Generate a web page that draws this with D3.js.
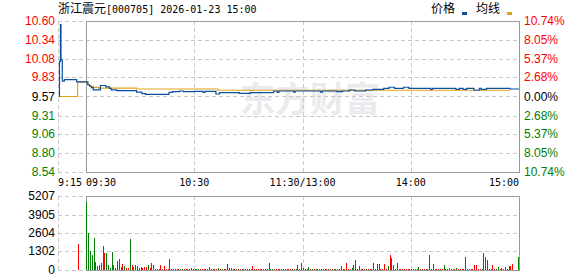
<!DOCTYPE html>
<html lang="zh">
<head>
<meta charset="UTF-8">
<title>浙江震元 分时</title>
<script src="https://d3js.org/d3.v7.min.js"></script>
<style>
  body { margin: 0; background: #fff; }
  svg text { font-family: "Liberation Sans", Arial, sans-serif; font-size: 12px; }
  .mono { font-family: "DejaVu Sans Mono", monospace; font-size: 10px; }
  .cjk { font-family: "Noto Sans CJK SC", sans-serif; font-size: 12px; }
</style>
</head>
<body>
<div id="chart"></div>
<script>
// 坐标刻度
const priceTicks = [10.60, 10.34, 10.08, 9.83, 9.57, 9.31, 9.06, 8.80, 8.54];
const pctLabels = ["10.74%", "8.05%", "5.37%", "2.68%", "0.00%", "2.68%", "5.37%", "8.05%", "10.74%"];
const volTicks = [5207, 3905, 2604, 1302, 0];
const timeLabels = ["09:30", "10:30", "11:30/13:00", "14:00", "15:00"];
const timeMinutes = [0, 60, 120, 180, 240];

// 集合竞价 (9:15 之后的分钟)
const preTimes = [0.5, 0.8, 1.3, 1.6, 2.3, 3.4, 10.0, 15];
const prePrices = [9.57, 10.05, 10.55, 10.07, 9.78, 9.80, 9.77, 9.77];
const preAvgTimes = [0.5, 10.5, 15];
const preAvgPrices = [9.57, 9.77, 9.77];
const preVolTime = 10.8;
const preVol = 1830;

// 连续交易 (9:30 之后的分钟序号)
const tradeIdx = [0, 1, 2, 3, 4, 8, 11, 13, 14, 17, 28, 31, 33, 46, 48, 52, 54, 60, 65, 66, 72, 74, 85, 91,
  104, 106, 107, 115, 116, 130, 131, 139, 142, 146, 149, 155, 159, 165, 168, 171, 176, 179, 191, 192,
  205, 207, 209, 211, 215, 218, 219, 222, 235, 240];
const tradePrices = [9.77, 9.73, 9.71, 9.69, 9.66, 9.72, 9.70, 9.68, 9.66, 9.65, 9.63, 9.61, 9.60, 9.627,
  9.636, 9.645, 9.636, 9.64, 9.627, 9.64, 9.604, 9.622, 9.613, 9.622, 9.645, 9.627, 9.645, 9.63, 9.645,
  9.63, 9.645, 9.636, 9.645, 9.659, 9.645, 9.659, 9.668, 9.682, 9.696, 9.682, 9.696, 9.682, 9.668, 9.682,
  9.668, 9.682, 9.668, 9.682, 9.655, 9.682, 9.668, 9.682, 9.672, 9.672];
const avgIdx = [0, 1, 2, 4, 7, 28, 73, 235];
const avgPrices = [9.77, 9.73, 9.71, 9.695, 9.685, 9.672, 9.655, 9.655];

// 每分钟成交量 (手)
const volumes = [
  4810, 2630, 1360, 1060, 2280, 560, 300, 350, 490, 1710,
  1200, 1200, 380, 140, 1270, 350, 160, 630, 780, 210,
  420, 260, 160, 160, 2190, 350, 235, 350, 280, 120,
  210, 120, 210, 210, 350, 160, 490, 350, 70, 70,
  50, 350, 70, 280, 70, 60, 780, 60, 50, 60,
  50, 60, 50, 60, 50, 60, 50, 60, 160, 60,
  50, 60, 60, 50, 60, 50, 60, 50, 210, 60,
  50, 60, 50, 140, 60, 50, 60, 60, 420, 120,
  160, 60, 70, 50, 60, 70, 60, 50, 60, 70,
  60, 50, 280, 70, 60, 60, 70, 60, 60, 60,
  50, 520, 60, 70, 60, 60, 60, 70, 60, 60,
  60, 60, 70, 60, 60, 50, 60, 350, 60, 520,
  160, 60, 60, 210, 60, 70, 60, 60, 60, 70,
  60, 60, 60, 70, 60, 60, 60, 60, 70, 60,
  60, 280, 60, 60, 520, 60, 70, 160, 375, 730,
  60, 280, 60, 70, 60, 60, 60, 70, 60, 490,
  60, 420, 420, 60, 70, 420, 60, 280, 1060, 850,
  350, 60, 490, 70, 60, 60, 70, 60, 100, 70,
  60, 60, 70, 60, 210, 60, 60, 70, 60, 60,
  1060, 60, 420, 60, 60, 70, 60, 60, 350, 60,
  70, 160, 60, 70, 60, 160, 60, 70, 60, 60,
  920, 60, 70, 60, 70, 350, 350, 60, 60, 70,
  1200, 920, 700, 60, 70, 350, 60, 70, 210, 60,
  160, 70, 210, 70, 280, 280, 420, 0, 0, 920
];
// r = 涨 (红), g = 跌 (绿)
const sides = ("gggggrrrrr" + "rggggrggrr" + "rgrrgrrgrr" + "grrrgrrgrr" + "grrrrrrrrg" +
  "rrggrrrrrg" + "rggrrrrrrg" + "grrgrgrrrg" + "rrrgrrgrgr" + "rrrrrrrgrr" +
  "rrggrrrgrr" + "rgrrgrgrgr" + "rrrgrgrgrr" + "grrrgrrgrr" + "rrrrrrrgrr" +
  "rgrrrgrrrr" + "rrrrrrrgrr" + "grrrrrrrrr" + "rrrrgrrrgr" + "rrgrrrrrgr" +
  "rrrrrgrrrr" + "rrrrrrrrrg" + "grrrrrrggr" + "rrrrrrrrrg").split("");

const W = 578, H = 276;
const plotL = 86, plotR = 519, preL = 58;
const plotT = 21, plotB = 172;
const volT = 196, volB = 270;
const red = "#ff0000", green = "#008000";
const gridColor = "#c8c8c8", boxColor = "#9a9a9a";
const priceColor = "#0b4f9f", avgColor = "#e0a31d";

const svg = d3.select("#chart").append("svg")
  .attr("width", W).attr("height", H);

const xPre = d3.scaleLinear().domain([0, 15]).range([preL, plotL]);
const x = d3.scaleLinear().domain([0, 240]).range([plotL, plotR]);
const y = d3.scaleLinear().domain([8.54, 10.60]).range([plotB, plotT]);
const yVol = d3.scaleLinear().domain([0, 5207]).range([volB, volT]);

const tickColor = i => i < 4 ? red : (i === 4 ? "#000" : green);
const crisp = v => Math.round(v) + 0.5;
const vx = d => crisp(d === null ? xPre(0) : x(d));

// 水印
svg.append("text")
  .attr("x", 240).attr("y", 112)
  .attr("class", "cjk")
  .style("font-size", "35px").style("font-weight", "bold")
  .attr("fill", "#ebebef")
  .text("东方财富");

// 网格
function grid(ticks, scale, t, b) {
  const g = svg.append("g");
  g.selectAll("line.h").data(ticks).join("line").attr("class", "h")
    .attr("x1", preL).attr("x2", plotR)
    .attr("y1", d => crisp(scale(d))).attr("y2", d => crisp(scale(d)))
    .attr("stroke", gridColor).attr("stroke-dasharray", "4,3");
  g.selectAll("line.v").data([null, 60, 120, 180]).join("line").attr("class", "v")
    .attr("x1", vx).attr("x2", vx)
    .attr("y1", t).attr("y2", b)
    .attr("stroke", gridColor).attr("stroke-dasharray", "4,3");
}
grid(priceTicks, y, plotT, plotB);
grid(volTicks, yVol, volT, volB);

// 边框
[[plotT, plotB], [volT, volB]].forEach(([t, b]) => {
  svg.append("rect")
    .attr("x", plotL + 0.5).attr("y", crisp(t))
    .attr("width", plotR - plotL).attr("height", Math.round(b) - Math.round(t))
    .attr("fill", "none").attr("stroke", boxColor);
});

// 左轴价格
svg.append("g").selectAll("text").data(priceTicks).join("text")
  .attr("x", 55).attr("y", d => y(d))
  .attr("text-anchor", "end").attr("dominant-baseline", "central")
  .attr("fill", (d, i) => tickColor(i))
  .text(d => d.toFixed(2));

// 右轴涨跌幅
svg.append("g").selectAll("text").data(pctLabels).join("text")
  .attr("x", 524).attr("y", (d, i) => y(priceTicks[i]))
  .attr("dominant-baseline", "central")
  .attr("fill", (d, i) => tickColor(i))
  .text(d => d);

// 成交量轴
svg.append("g").selectAll("text").data(volTicks).join("text")
  .attr("x", 55).attr("y", d => yVol(d))
  .attr("text-anchor", "end").attr("dominant-baseline", "central")
  .attr("fill", "#000")
  .text(d => d);

// 时间轴
svg.append("text").attr("class", "mono")
  .attr("x", xPre(0)).attr("y", 182).attr("dominant-baseline", "central")
  .text("9:15");
svg.append("g").selectAll("text").data(timeLabels).join("text")
  .attr("class", "mono")
  .attr("x", (d, i) => x(timeMinutes[i]))
  .attr("y", 182).attr("dominant-baseline", "central")
  .attr("text-anchor", (d, i) => i === 0 ? "start" : (i === timeLabels.length - 1 ? "end" : "middle"))
  .text(d => d);

// 标题
const title = svg.append("text").attr("x", preL).attr("y", 13);
title.append("tspan").attr("class", "cjk").text("浙江震元");
title.append("tspan").attr("class", "mono").text("[000705] 2026-01-23 15:00");

// 图例
const legend = svg.append("g");
legend.append("text").attr("class", "cjk").attr("x", 431).attr("y", 13).text("价格");
legend.append("rect").attr("x", 462).attr("y", 12).attr("width", 5).attr("height", 3).attr("fill", priceColor);
legend.append("text").attr("class", "cjk").attr("x", 476).attr("y", 13).text("均线");
legend.append("rect").attr("x", 507).attr("y", 12).attr("width", 5).attr("height", 3).attr("fill", avgColor);

// 成交量柱
const barX = i => x(i + 0.5) - 0.5;
svg.append("g").attr("shape-rendering", "crispEdges")
  .selectAll("rect").data(volumes).join("rect")
  .attr("x", (d, i) => barX(i))
  .attr("y", d => yVol(d))
  .attr("width", 1)
  .attr("height", d => volB - yVol(d))
  .attr("fill", (d, i) => sides[i] === "r" ? red : green);
svg.append("rect").attr("shape-rendering", "crispEdges")
  .attr("x", xPre(preVolTime) - 0.5).attr("y", yVol(preVol))
  .attr("width", 1).attr("height", volB - yVol(preVol))
  .attr("fill", red);

// 价格线与均线
const line = d3.line().x(d => d[0]).y(d => y(d[1])).curve(d3.curveStepAfter);
const pricePts = preTimes.map((t, i) => [xPre(t), prePrices[i]])
  .concat(tradeIdx.map((t, i) => [x(t), tradePrices[i]]));
const avgPts = preAvgTimes.map((t, i) => [xPre(t), preAvgPrices[i]])
  .concat(avgIdx.map((t, i) => [x(t), avgPrices[i]]));

svg.append("path").datum(avgPts)
  .attr("d", line).attr("fill", "none")
  .attr("stroke", avgColor).attr("stroke-width", 1.2);
svg.append("path").datum(pricePts)
  .attr("d", line).attr("fill", "none")
  .attr("stroke", priceColor).attr("stroke-width", 1.2);
</script>
</body>
</html>
